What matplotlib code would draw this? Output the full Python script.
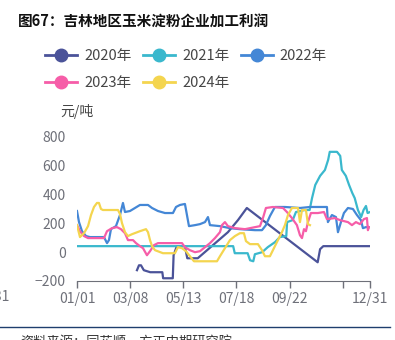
import matplotlib
matplotlib.use("Agg")
import matplotlib.pyplot as plt
from matplotlib.lines import Line2D

plt.rcParams['font.family'] = ['Noto Sans CJK SC', 'DejaVu Sans']

# day of year / profit (元/吨)
days_2020 = [74.5, 77, 79.5, 83, 91, 106, 107, 119, 120, 124, 134, 137, 150, 187.5, 200, 211, 299, 302, 306, 363]
vals_2020 = [-125, -91, -91, -125, -139, -139, -181, -181, -21, 42, 42, -42, -42, 139, 223, 307, -70, 21, 42, 42]

days_2021 = [0, 194, 196, 212, 215, 219, 221, 230, 237, 246, 252, 260, 261, 268, 272, 283, 289, 292, 296,
             302, 308, 312, 314, 323, 327, 329, 334, 338, 342, 345, 349, 353, 356, 359, 361, 364]
vals_2021 = [42, 42, -7, -7, -56, -63, -14, 0, 35, 70, 105, 112, 209, 223, 279, 293, 293, 376, 467,
             530, 571, 641, 697, 697, 669, 571, 530, 467, 411, 376, 293, 244, 293, 321, 272, 279]

days_2022 = [0, 2.5, 6.2, 11.2, 16.1, 33.5, 37.3, 39.7, 42.2, 48.4, 53.4, 57.1, 59.6, 65.8, 72, 78.2, 88.2,
             93.2, 100.6, 109.3, 119.2, 123, 127.9, 134.1, 136.6, 139.1, 146.6, 152.8, 159, 162.7, 165.2,
             177.6, 190, 202.4, 221.1, 229.8, 234.7, 239.7, 245.9, 258.3, 277, 289.4, 310.5, 311.7, 316.7,
             321.7, 324.2, 327.9, 331.6, 336.6, 342.8, 347.8, 352.7, 355.2, 358.9, 363.9]
vals_2022 = [286, 209, 146, 112, 105, 105, 63, 84, 160, 181, 258, 342, 279, 286, 307, 328, 328,
             307, 286, 272, 272, 314, 328, 335, 258, 181, 188, 195, 209, 244, 188,
             181, 167, 160, 153, 153, 188, 251, 314, 314, 307, 314, 314, 209, 258,
             244, 139, 209, 272, 307, 300, 258, 223, 167, 174, 174]

days_2023 = [0, 3.7, 8.7, 13.7, 33.5, 37.3, 43.5, 49.7, 54.6, 59.6, 63.3, 69.6, 73.3, 78.2, 82, 86.9, 90.7,
             95.6, 100.6, 130.4, 134.1, 140.3, 146.6, 152.8, 159, 165.2, 171.4, 177.6, 180.1, 183.8, 187.5,
             196.2, 208.7, 221.1, 227.3, 231, 234.7, 243.4, 255.9, 260.8, 267, 273.2, 277, 279.5, 282,
             284.4, 286.9, 290.6, 299.3, 306.8, 310.5, 320.4, 326.6, 336.6, 341.6, 346.5, 351.5, 356.5,
             360.2, 361.4, 362.7]
vals_2023 = [188, 146, 112, 98, 98, 146, 167, 174, 160, 132, 84, 84, 63, 42, 28, -21, 7,
             49, 63, 63, 35, 14, 0, 7, 35, 63, 98, 139, 188, 209, 181,
             167, 160, 174, 181, 237, 307, 314, 307, 279, 237, 188, 118, 98, 160,
             146, 209, 272, 272, 279, 230, 237, 223, 209, 188, 209, 195, 230,
             237, 153, 174]

days_2024 = [0, 3.7, 8.7, 13.7, 17.4, 21.1, 24.8, 27.3, 29.8, 32.3, 50.9, 53.4, 55.9, 59.6, 63.3, 68.3,
             78.2, 85.7, 88.2, 90.7, 93.2, 96.9, 106.8, 121.7, 125.4, 130.4, 135.4, 140.3, 145.3, 173.9,
             177.6, 183.8, 190, 196.2, 202.4, 207.4, 209.9, 214.9, 224.8, 229.8, 233.5, 239.7, 243.4,
             249.6, 254.6, 258.3, 262.1, 267, 274.5, 277, 279.5, 284.4, 286.9, 289.4]
vals_2024 = [188, 105, 132, 181, 258, 314, 342, 342, 300, 293, 293, 265, 202, 139, 112, 125,
             146, 160, 139, 84, 42, 14, -7, -7, 35, 28, 7, -28, -63, -63,
             -28, 28, 84, 112, 132, 132, 77, 56, 56, 14, -28, -28, 14,
             84, 139, 188, 258, 307, 307, 209, 293, 293, 195, 188]

years = ['2020年', '2021年', '2022年', '2023年', '2024年']
colors = ['#4b5399', '#3ab8cd', '#4487d6', '#f65da8', '#f4d54f']
series = [(days_2020, vals_2020), (days_2021, vals_2021), (days_2022, vals_2022),
          (days_2023, vals_2023), (days_2024, vals_2024)]

xtick_pos = [0, 66, 132, 198, 264, 330, 364]
xtick_labels = ['01/01', '03/08', '05/13', '07/18', '09/22', '', '12/31']
ytick_pos = [-200, 0, 200, 400, 600, 800]

fig = plt.figure(figsize=(3.95, 3.4), dpi=100)
ax = fig.add_axes([77/395, 1-281/340, 293/395, 144/340])

for (d, v), c in zip(series, colors):
    ax.plot(d, v, color=c, lw=1.6, solid_joinstyle='round')

ax.set_xlim(0, 364)
ax.set_ylim(-200, 800)
ax.set_xticks(xtick_pos)
ax.set_xticklabels(xtick_labels)
ax.set_yticks(ytick_pos)
for s in ['top', 'right', 'left']:
    ax.spines[s].set_visible(False)
ax.spines['bottom'].set_color('#6e7079')
ax.tick_params(axis='y', length=0, pad=8, labelsize=10, labelcolor='#6e7079')
ax.tick_params(axis='x', length=5, width=1, color='#6e7079', labelcolor='#6e7079', labelsize=10, pad=3)

# clipped label of previous year end at the far left
fig.text(10/395, 1-297/340, '12/31', ha='right', va='center', fontsize=10, color='#6e7079')

fig.text(60/395, 1-112/340, '元/吨', ha='left', va='center', fontsize=10, color='#464646')

fig.text(18/395, 1-22/340, '图67：吉林地区玉米淀粉企业加工利润', ha='left', va='center',
         fontsize=10.5, fontweight='bold', color='#111111')

handles = [Line2D([0], [0], color=c, lw=2, marker='o', ms=9) for c in colors]
order = [0, 3, 1, 4, 2]
fig.legend([handles[i] for i in order], [years[i] for i in order], ncol=3, loc='upper left',
           bbox_to_anchor=(38/395, 1-42/340), frameon=False, handlelength=2.2,
           columnspacing=0.75, handletextpad=0.5, fontsize=10.5, labelcolor='#464646',
           borderpad=0, labelspacing=0.85)

fig.add_artist(Line2D([0, 390/395], [1-327/340, 1-327/340], transform=fig.transFigure,
                      color='#1f3f6e', lw=1))
fig.text(20/395, 1-343/340, '资料来源：同花顺，方正中期研究院', ha='left', va='center',
         fontsize=9.5, color='#333333')

fig.savefig('out.png', dpi=100)
